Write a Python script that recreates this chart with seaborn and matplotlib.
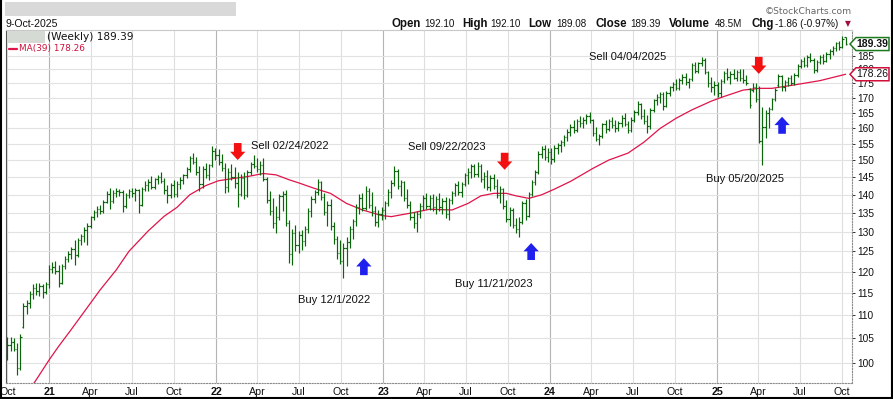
import matplotlib
matplotlib.use("Agg")
import matplotlib.pyplot as plt
from matplotlib.lines import Line2D
from matplotlib.patches import Polygon, Rectangle
from matplotlib.ticker import FixedLocator, NullLocator
from matplotlib.transforms import IdentityTransform
import pandas as pd
import seaborn as sns

# weekly bars, first bar dated 1-Oct-2020, one row per month
first_week = "2020-10-01"

opens = [
    101.5, 103.5, 104.2, 102.8, 99.0,
    107.5, 112.0, 112.6, 114.8,
    116.2, 115.4, 116.6, 115.2, 117.1,
    120.6, 121.2, 120.2, 117.4,
    121.3, 123.2, 124.3, 125.7,
    124.0, 127.8, 128.9, 130.4,
    131.5, 133.8, 135.3, 136.1, 135.5,
    138.0, 140.2, 138.2, 140.6,
    141.2, 140.8, 137.0, 140.0,
    141.2, 140.6, 141.3, 137.2, 141.6,
    142.9, 143.6, 142.2, 144.5,
    145.0, 143.8, 141.4, 139.9, 142.8,
    140.3, 143.0, 144.2, 145.6,
    147.4, 150.6, 149.6, 146.6,
    143.0, 147.4, 145.8, 148.6, 152.8,
    151.6, 149.4, 147.6, 142.2,
    146.6, 145.0, 143.4, 140.2,
    144.8, 140.0, 146.4, 149.0, 148.4,
    147.4, 148.6, 144.6, 138.6,
    135.4, 132.4, 133.8, 139.6,
    140.2, 132.2, 124.4, 129.8, 126.6,
    129.2, 127.6, 130.6, 135.6,
    138.8, 140.8, 143.6, 139.4,
    135.2, 137.2, 131.4, 128.0, 124.6,
    122.6, 125.8, 127.4, 130.8,
    132.8, 136.6, 139.2, 136.4,
    141.2, 137.2, 135.4, 132.6, 134.8,
    135.8, 137.6, 140.8, 143.4,
    146.8, 142.4, 143.6, 139.0,
    137.2, 134.0, 132.4, 134.8, 137.0,
    139.2, 137.0, 139.2, 136.6,
    138.8, 136.6, 138.4, 134.6,
    138.6, 140.4, 142.8, 140.8, 143.0,
    145.6, 146.6, 148.2, 146.0,
    148.4, 144.4, 145.4, 142.2, 144.8,
    142.6, 140.0, 141.6, 137.0,
    133.4, 135.8, 131.8, 130.8,
    132.6, 137.6, 134.2, 140.2, 143.6,
    146.6, 152.0, 153.6, 151.0,
    152.4, 150.4, 153.8, 154.6,
    155.6, 157.2, 158.8, 160.4, 159.4,
    162.2, 161.6, 162.8, 163.8,
    162.6, 158.4, 156.6, 157.6,
    161.2, 159.6, 162.4, 161.0, 160.0,
    161.6, 163.4, 161.4, 159.4,
    162.8, 165.2, 167.8, 164.0,
    162.4, 160.6, 165.8, 169.2, 170.4,
    171.4, 167.2, 171.8, 173.6,
    174.8, 173.4, 176.2, 177.4, 175.6,
    176.4, 181.6, 179.4, 182.2,
    183.6, 179.0, 175.0, 173.6,
    174.6, 171.6, 175.8, 178.8, 177.2,
    178.4, 177.0, 179.2, 177.0,
    176.2, 173.0, 172.6, 173.8,
    169.6, 156.0, 160.5, 164.8,
    166.4, 169.6, 174.4, 177.6, 173.6,
    175.6, 176.8, 175.2, 178.0,
    181.2, 183.2, 181.6, 184.6, 183.4,
    179.8, 182.8, 184.6, 183.2,
    185.8, 186.6, 187.8, 189.6,
    188.4, 192.10,
]

highs = [
    105.2, 105.3, 105.0, 104.0, 105.9,
    112.7, 113.4, 115.4, 117.0,
    117.2, 117.3, 117.0, 117.5, 121.6,
    122.3, 122.6, 121.5, 121.8,
    123.8, 125.0, 126.2, 127.9,
    128.5, 129.4, 131.2, 132.3,
    134.3, 135.9, 136.8, 137.2, 138.6,
    141.0, 141.9, 141.4, 141.8,
    141.6, 141.4, 140.5, 141.6,
    141.8, 141.9, 141.5, 142.2, 143.8,
    144.4, 145.3, 144.9, 145.6,
    146.4, 144.8, 142.8, 143.4, 144.2,
    143.8, 145.0, 146.0, 148.0,
    151.4, 152.3, 151.0, 148.4,
    148.2, 149.2, 149.0, 154.5, 153.8,
    153.4, 151.8, 149.2, 147.8,
    148.8, 148.0, 146.4, 146.0,
    146.6, 147.0, 149.6, 151.6, 150.6,
    149.8, 150.8, 145.0, 141.2,
    139.0, 136.8, 140.2, 141.0,
    141.4, 133.0, 130.6, 131.8, 130.2,
    130.4, 131.4, 136.4, 139.6,
    141.4, 144.6, 144.0, 140.6,
    138.4, 138.8, 132.6, 128.8, 127.8,
    127.0, 128.6, 131.6, 133.4,
    137.4, 140.2, 140.6, 142.5,
    141.8, 140.8, 137.0, 135.8, 136.6,
    138.2, 141.6, 144.2, 148.3,
    147.4, 144.2, 144.0, 141.6,
    138.4, 135.2, 135.6, 137.6, 139.8,
    140.4, 139.8, 140.2, 139.6,
    140.4, 139.0, 139.4, 139.2,
    141.2, 143.4, 144.0, 143.6, 146.2,
    147.6, 148.8, 149.0, 149.6,
    148.8, 146.6, 147.2, 145.6, 146.0,
    144.4, 142.4, 142.0, 138.6,
    136.6, 136.4, 133.6, 133.8,
    138.2, 138.8, 140.8, 144.2, 147.2,
    152.8, 154.4, 154.6, 153.8,
    153.8, 154.8, 155.4, 156.2,
    157.8, 159.6, 161.2, 162.6, 163.0,
    163.8, 163.6, 164.6, 165.4,
    163.0, 160.4, 158.2, 161.8,
    162.8, 163.0, 163.6, 162.6, 162.4,
    164.2, 165.0, 162.2, 163.6,
    165.8, 168.8, 168.4, 166.2,
    164.2, 166.6, 169.8, 171.2, 172.0,
    172.2, 172.4, 174.2, 175.6,
    176.4, 177.0, 178.2, 178.6, 177.0,
    182.2, 182.6, 182.8, 184.6,
    184.0, 179.6, 177.4, 175.8,
    175.4, 176.4, 179.6, 180.4, 179.4,
    180.2, 179.8, 180.0, 180.0,
    177.9, 173.3, 175.0, 175.0,
    174.2, 167.0, 165.9, 167.0,
    170.0, 173.4, 178.3, 178.0, 176.2,
    177.4, 178.0, 178.6, 181.8,
    183.8, 184.4, 185.4, 186.0, 184.0,
    183.4, 185.2, 185.8, 186.4,
    187.4, 188.6, 190.2, 190.6,
    192.6, 192.10,
]

lows = [
    100.5, 102.4, 102.3, 97.6, 98.5,
    107.2, 110.3, 111.5, 113.5,
    114.6, 114.2, 113.8, 114.8, 116.2,
    119.8, 119.5, 116.4, 117.0,
    120.6, 122.4, 123.2, 121.6,
    123.6, 126.6, 127.3, 126.7,
    131.0, 133.2, 134.0, 134.6, 135.0,
    137.6, 136.0, 137.8, 139.4,
    139.6, 135.2, 136.4, 139.0,
    139.4, 138.4, 135.0, 136.8, 141.0,
    141.2, 141.7, 141.6, 143.2,
    143.3, 140.2, 137.8, 139.2, 139.5,
    139.4, 141.6, 143.2, 144.8,
    146.6, 148.8, 145.6, 141.2,
    142.0, 144.8, 144.2, 148.0, 150.2,
    148.6, 146.8, 140.4, 140.8,
    144.2, 142.0, 136.6, 139.6,
    138.8, 139.4, 145.8, 147.8, 146.6,
    145.8, 143.8, 137.8, 134.4,
    131.0, 129.6, 133.0, 135.4,
    131.4, 122.0, 121.6, 125.2, 124.6,
    125.4, 126.4, 129.8, 133.8,
    137.8, 139.8, 138.6, 134.4,
    131.6, 130.4, 126.8, 123.0, 121.8,
    118.5, 121.4, 125.8, 128.2,
    131.4, 134.6, 135.4, 135.8,
    136.4, 134.2, 131.6, 131.2, 133.0,
    133.4, 136.8, 139.2, 142.6,
    141.6, 139.6, 138.2, 136.4,
    133.2, 131.0, 130.0, 133.6, 135.8,
    136.0, 135.8, 135.4, 134.6,
    135.6, 134.8, 133.6, 133.2,
    137.4, 139.6, 139.8, 139.4, 142.4,
    143.2, 144.8, 145.2, 145.0,
    143.6, 142.0, 141.4, 141.2, 141.6,
    139.2, 137.8, 136.2, 132.6,
    131.6, 131.0, 129.8, 128.6,
    132.0, 133.0, 133.8, 139.6, 142.8,
    146.0, 150.8, 150.2, 149.4,
    148.8, 149.6, 151.8, 152.6,
    154.4, 155.8, 157.6, 158.4, 158.8,
    160.4, 160.0, 161.4, 161.8,
    157.6, 155.8, 154.6, 157.0,
    158.6, 159.0, 160.2, 158.8, 159.2,
    160.4, 160.6, 158.6, 158.8,
    162.0, 164.2, 163.0, 161.2,
    158.4, 159.6, 165.2, 167.6, 168.2,
    165.8, 166.8, 170.6, 172.4,
    172.6, 172.8, 174.8, 174.6, 173.4,
    175.8, 178.6, 178.8, 181.4,
    178.2, 173.6, 172.0, 171.0,
    170.2, 170.4, 175.0, 176.2, 174.8,
    176.4, 175.8, 176.0, 175.3,
    174.3, 166.6, 172.0, 168.6,
    155.4, 148.6, 157.0, 160.0,
    166.0, 168.8, 173.6, 172.4, 172.4,
    174.2, 174.4, 174.6, 177.4,
    180.6, 180.8, 181.0, 182.8, 178.6,
    179.2, 182.0, 181.8, 182.6,
    183.8, 185.4, 186.8, 187.0,
    187.8, 189.08,
]

closes = [
    103.5, 104.2, 102.8, 99.0, 105.2,
    112.0, 112.6, 114.8, 116.2,
    115.4, 116.6, 115.2, 117.1, 120.6,
    121.2, 120.2, 117.4, 121.3,
    123.2, 124.3, 125.7, 124.0,
    127.8, 128.9, 130.4, 131.5,
    133.8, 135.3, 136.1, 135.5, 138.0,
    140.2, 138.2, 140.6, 141.2,
    140.8, 137.0, 140.0, 141.2,
    140.6, 141.3, 137.2, 141.6, 142.9,
    143.6, 142.2, 144.5, 145.0,
    143.8, 141.4, 139.9, 142.8, 140.3,
    143.0, 144.2, 145.6, 147.4,
    150.6, 149.6, 146.6, 143.0,
    147.4, 145.8, 148.6, 152.8, 151.6,
    149.4, 147.6, 142.2, 146.6,
    145.0, 143.4, 140.2, 144.8,
    140.0, 146.4, 149.0, 148.4, 147.4,
    148.6, 144.6, 138.6, 135.4,
    132.4, 133.8, 139.6, 140.2,
    132.2, 124.4, 129.8, 126.6, 129.2,
    127.6, 130.6, 135.6, 138.8,
    140.8, 143.6, 139.4, 135.2,
    137.2, 131.4, 128.0, 124.6, 122.6,
    125.8, 127.4, 130.8, 132.8,
    136.6, 139.2, 136.4, 141.2,
    137.2, 135.4, 132.6, 134.8, 135.8,
    137.6, 140.8, 143.4, 146.8,
    142.4, 143.6, 139.0, 137.2,
    134.0, 132.4, 134.8, 137.0, 139.2,
    137.0, 139.2, 136.6, 138.8,
    136.6, 138.4, 134.6, 138.6,
    140.4, 142.8, 140.8, 143.0, 145.6,
    146.6, 148.2, 146.0, 148.4,
    144.4, 145.4, 142.2, 144.8, 142.6,
    140.0, 141.6, 137.0, 133.4,
    135.8, 131.8, 130.8, 132.6,
    137.6, 134.2, 140.2, 143.6, 146.6,
    152.0, 153.6, 151.0, 152.4,
    150.4, 153.8, 154.6, 155.6,
    157.2, 158.8, 160.4, 159.4, 162.2,
    161.6, 162.8, 163.8, 162.6,
    158.4, 156.6, 157.6, 161.2,
    159.6, 162.4, 161.0, 160.0, 161.6,
    163.4, 161.4, 159.4, 162.8,
    165.2, 167.8, 164.0, 162.4,
    160.6, 165.8, 169.2, 170.4, 171.4,
    167.2, 171.8, 173.6, 174.8,
    173.4, 176.2, 177.4, 175.6, 176.4,
    181.6, 179.4, 182.2, 183.6,
    179.0, 175.0, 173.6, 174.6,
    171.6, 175.8, 178.8, 177.2, 178.4,
    177.0, 179.2, 177.0, 176.2,
    175.0, 167.6, 173.8, 169.6,
    156.0, 160.5, 164.8, 166.4,
    169.6, 172.8, 177.6, 173.6, 175.6,
    176.8, 175.2, 178.0, 181.2,
    183.2, 181.6, 184.6, 183.4, 179.8,
    182.8, 184.6, 183.2, 185.8,
    186.6, 187.8, 189.6, 188.4,
    191.25, 189.39,
]

# 39-week moving average (week number, value)
ma_week = [7, 9, 13, 16, 20, 25, 29, 34, 38, 44, 49, 53, 57, 62, 66, 71, 75, 80,
           84, 88, 91, 96, 101, 106, 111, 117, 120, 127, 132, 139, 144, 148, 152,
           156, 159, 163, 167, 171, 176, 183, 188, 194, 199, 204, 209, 214, 220,
           224, 230, 235, 239, 246, 254, 262]
ma_values = [94.8, 96.6, 100.5, 103.3, 106.9, 111.7, 115.7, 120.4, 125.0, 130.2,
             134.1, 136.5, 140.0, 142.6, 144.0, 144.7, 145.2, 146.1, 145.7, 144.3,
             143.4, 141.8, 140.4, 137.6, 135.8, 134.3, 134.0, 135.1, 136.0, 135.8,
             137.6, 139.7, 140.4, 140.4, 139.7, 139.0, 140.0, 141.6, 143.8, 147.6,
             150.1, 152.2, 155.6, 159.9, 163.2, 166.0, 168.9, 170.5, 172.7, 173.3,
             173.3, 174.5, 176.0, 178.26]

sell_labels = ["Sell 02/24/2022", "Sell 09/22/2023", "Sell 04/04/2025"]
buy_labels = ["Buy 12/1/2022", "Buy 11/21/2023", "Buy 05/20/2025"]

header_items = [("Open", "192.10"), ("High", "192.10"), ("Low", "189.08"),
                ("Close", "189.39"), ("Volume", "48.5M"), ("Chg", "-1.86 (-0.97%)")]

y_ticks = list(range(100, 190, 5))

W, H = 893, 399
sns.set_theme(style="white")
plt.rcParams["font.family"] = ["Liberation Sans", "DejaVu Sans"]

assert len(opens) == len(highs) == len(lows) == len(closes)
dates = pd.date_range(first_week, periods=len(closes), freq="7D")
quarters = pd.date_range("2020-10-01", "2025-10-01", freq="QS")

fig = plt.figure(figsize=(W / 100, H / 100), dpi=100)
ax = fig.add_axes([6 / W, 1 - 383 / H, 846 / W, 353 / H])
ax.set_yscale("log")
ax.set_ylim(96.0, 194.8)
ax.set_xlim(pd.Timestamp("2020-09-28"), pd.Timestamp("2025-10-23"))

for q in quarters:
    ax.axvline(q, color="#b4b4b4" if q.month == 1 else "#dedede", lw=0.8, zorder=0)
for v in y_ticks:
    ax.axhline(v, color="#e2e2e2", lw=0.8, zorder=0)

green = "#0a640a"
half = pd.Timedelta(days=3)
ax.vlines(dates, lows, highs, color=green, lw=0.85, zorder=3)
ax.hlines(opens, dates - half, dates, color=green, lw=0.85, zorder=3)
ax.hlines(closes, dates, dates + half, color=green, lw=0.85, zorder=3)

sns.lineplot(x=dates[ma_week], y=ma_values, color="#e0144a", lw=0.9, ax=ax, zorder=2)

ax.yaxis.tick_right()
ax.yaxis.set_major_locator(FixedLocator(y_ticks))
ax.yaxis.set_minor_locator(NullLocator())
ax.set_yticklabels([str(v) for v in y_ticks])
ax.tick_params(axis="y", length=2.5, width=0.7, color="#333333", pad=1.5,
               labelsize=7.3, labelcolor="#111111")
ax.set_xticks(quarters)
ax.set_xticklabels([f"{q.year % 100:02d}" if q.month == 1 else q.strftime("%b") for q in quarters])
for lbl, q in zip(ax.get_xticklabels(), quarters):
    if q.month == 1:
        lbl.set_fontweight("bold")
ax.tick_params(axis="x", length=0, pad=3, labelsize=7.7, labelcolor="#111111")
ax.set_xlabel("")
ax.set_ylabel("")

ax.spines["left"].set_color("#555555")
ax.spines["top"].set_color("#c8c8c8")
for s in ("left", "top", "right", "bottom"):
    ax.spines[s].set_linewidth(0.8)
for s in ("right", "bottom"):
    ax.spines[s].set_color("#8c8c8c")
    ax.spines[s].set_linestyle((0, (1, 1.5)))

# signal arrows and labels
arrow_style = "simple,head_length=0.6,head_width=1.1,tail_width=0.55"
sell_tips = [("2022-02-17", 150.1), ("2023-09-24", 147.2), ("2025-04-02", 178.4)]
sell_text = [("2022-06-10", 154.4), ("2023-05-21", 154.0), ("2024-06-18", 184.6)]
buy_tips = [("2022-11-20", 123.3), ("2023-11-21", 127.1), ("2025-05-23", 163.7)]
buy_text = [("2022-09-16", 113.4), ("2023-09-01", 117.1), ("2025-03-02", 144.5)]

for (d, p), (td, tp), lab in zip(sell_tips, sell_text, sell_labels):
    ax.annotate("", xy=(pd.Timestamp(d), p), xytext=(0, 17), textcoords="offset pixels",
                arrowprops=dict(arrowstyle=arrow_style, fc="#f21010", ec="none",
                                shrinkA=0, shrinkB=0, mutation_scale=10), zorder=5)
    ax.text(pd.Timestamp(td), tp, lab, ha="center", va="center", fontsize=8, color="#111111", zorder=5)
for (d, p), (td, tp), lab in zip(buy_tips, buy_text, buy_labels):
    ax.annotate("", xy=(pd.Timestamp(d), p), xytext=(0, -17), textcoords="offset pixels",
                arrowprops=dict(arrowstyle=arrow_style, fc="#2020ee", ec="none",
                                shrinkA=0, shrinkB=0, mutation_scale=10), zorder=5)
    ax.text(pd.Timestamp(td), tp, lab, ha="center", va="center", fontsize=8, color="#111111", zorder=5)


def fx(x):
    return x / W


def fy(y):
    return 1 - y / H


# header
fig.add_artist(Rectangle((fx(5), fy(16)), 231 / W, 14 / H, transform=fig.transFigure,
                         color="#d9d9d9", lw=0))
fig.text(fx(6), fy(24), "9-Oct-2025", fontsize=7.6, va="center", color="#111111")
fig.text(fx(852), fy(12), "\u00a9StockCharts.com", fontsize=6.6, va="center", ha="right",
         color="#666666", family="DejaVu Sans")
head_x = [(392, 424.5), (462.7, 490.7), (528.3, 556.7), (595, 630.7), (669.3, 715), (751, 775)]
for (lab, val), (lx, vx) in zip(header_items, head_x):
    fig.text(fx(lx), fy(24), lab, fontsize=8.3, fontweight="bold", va="center", color="#111111")
    fig.text(fx(vx), fy(24), val, fontsize=7.1, va="center", color="#111111")
fig.text(fx(845), fy(24), "\u25bc", fontsize=5.5, va="center", color="#a0103a", family="DejaVu Sans")

# legend
fig.add_artist(Rectangle((fx(7), fy(43)), 38 / W, 12 / H, transform=fig.transFigure,
                         color="#d5dad5", lw=0))
fig.text(fx(47), fy(37), f"(Weekly) {closes[-1]:.2f}", fontsize=7.6, va="center",
         color="#111111", family="DejaVu Sans")
fig.add_artist(Line2D([fx(9), fx(17)], [fy(48.5), fy(48.5)], transform=fig.transFigure,
                      color="#e0144a", lw=1.6))
fig.text(fx(19), fy(48.5), f"MA(39) {ma_values[-1]:.2f}", fontsize=6.4, va="center",
         color="#d0103a", family="DejaVu Sans")


def price_tag(price, label, edge, weight):
    y = ax.transData.transform((ax.get_xlim()[0], price))[1]
    pts = [(850, y), (856, y + 6.5), (889, y + 6.5), (889, y - 6.5), (856, y - 6.5)]
    fig.add_artist(Polygon(pts, closed=True, transform=IdentityTransform(),
                           fc="white", ec=edge, lw=1.1, zorder=4))
    fig.text(872.5, y, label, transform=IdentityTransform(), ha="center", va="center",
             fontsize=7.5, fontweight=weight, color="#111111", zorder=5)


price_tag(closes[-1], f"{closes[-1]:.2f}", "#1f7a1f", "bold")
price_tag(ma_values[-1], f"{ma_values[-1]:.2f}", "#d0103a", "normal")

# outer frame
for xs, ys in (([fx(1), fx(1)], [0, 1]), ([fx(892), fx(892)], [0, 1]), ([0, 1], [fy(398), fy(398)])):
    fig.add_artist(Line2D(xs, ys, transform=fig.transFigure, color="black", lw=1.5))

fig.savefig("out.png", dpi=100)
